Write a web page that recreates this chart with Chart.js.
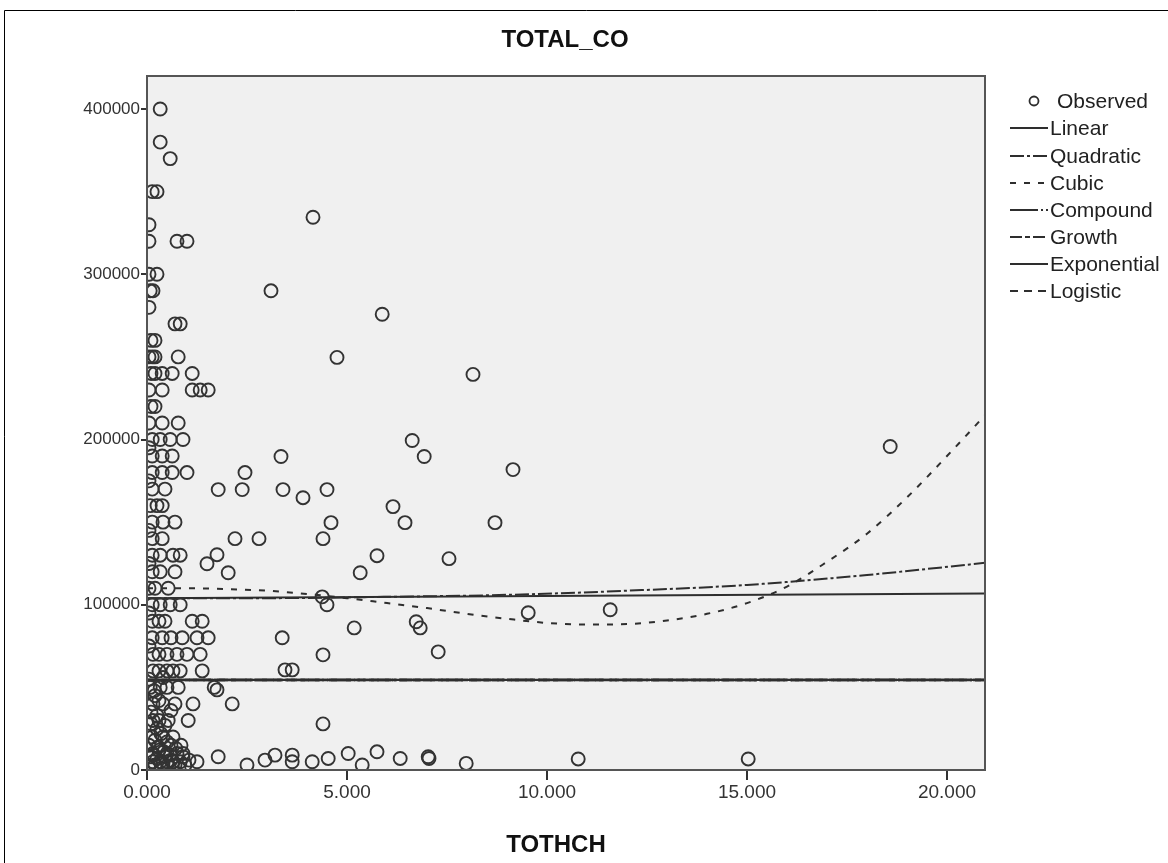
<!DOCTYPE html>
<html>
<head>
<meta charset="utf-8">
<script src="https://cdn.jsdelivr.net/npm/chart.js@4"></script>
<style>
html,body{margin:0;padding:0;background:#fff;}
#wrap{position:relative;width:1168px;height:863px;}
</style>
</head>
<body>
<div id="wrap"><canvas id="c" width="1168" height="863"></canvas></div>
<script>
// ---- Data ----
const chartTitle = "TOTAL_CO";
const xTitle = "TOTHCH";
const xTicks = [0, 5, 10, 15, 20];
const yTicks = [0, 100000, 200000, 300000, 400000];

// Observed points (TOTHCH, TOTAL_CO)
const obsX = [
 0.33,0.33,0.58,0.13,0.25,0.05,0.05,0.75,1.0,0.05,0.25,0.15,0.08,0.05,0.7,0.83,0.2,0.1,
 0.13,0.2,0.78,0.2,0.38,0.63,1.13,0.05,0.38,1.13,1.33,1.53,0.2,0.1,0.05,0.38,0.78,
 0.13,0.33,0.58,0.9,0.13,0.38,0.63,0.13,0.38,0.63,1.0,0.13,0.45,0.25,0.38,0.08,
 0.13,0.4,0.7,0.13,0.38,0.13,0.33,0.65,0.83,0.13,0.33,0.7,0.05,0.53,0.2,
 0.13,0.33,0.58,0.83,0.13,0.45,1.13,1.38,0.3,0.13,0.38,0.88,1.25,1.53,0.6,
 0.15,0.5,0.75,1.0,1.33,0.3,0.15,0.5,0.83,1.38,0.3,0.65,0.08,0.33,0.78,0.5,0.2,
 0.15,0.7,1.15,0.4,0.15,0.53,1.03,0.3,0.13,0.4,0.25,0.6,0.15,0.5,0.75,0.9,0.3,
 0.15,0.33,0.5,0.65,0.83,1.25,
 0.05,0.1,0.2,0.25,0.35,0.4,0.45,0.55,0.6,0.7,0.8,0.95,1.05,0.05,0.1,0.05,0.05,0.05,
 0.05,0.05,0.05,0.05,0.1,0.05,
 0.15,0.28,0.42,0.58,0.72,0.9,0.2,0.35,0.5,0.65,0.1,0.25,0.45,0.85,0.6,0.3,0.18,0.4,
 4.15,3.1,5.88,4.75,8.15,6.63,6.93,3.35,9.15,2.45,2.38,3.4,4.5,1.78,3.9,6.15,4.6,6.45,
 8.7,4.4,2.2,2.8,5.75,7.55,1.75,1.5,2.03,5.33,4.38,4.5,9.53,11.58,5.18,6.73,6.83,3.38,
 7.28,4.4,3.45,3.63,1.75,1.68,2.13,4.4,18.58,10.78,15.03,
 2.5,2.95,3.2,3.63,3.63,4.13,4.53,5.03,5.38,5.75,6.33,7.03,7.05,7.98,1.78
];
const obsY = [
 400000,380000,370000,350000,350000,330000,320000,320000,320000,300000,300000,290000,290000,280000,270000,270000,260000,260000,
 250000,250000,250000,240000,240000,240000,240000,230000,230000,230000,230000,230000,220000,220000,210000,210000,210000,
 200000,200000,200000,200000,190000,190000,190000,180000,180000,180000,180000,170000,170000,160000,160000,160000,
 150000,150000,150000,140000,140000,130000,130000,130000,130000,120000,120000,120000,110000,110000,110000,
 100000,100000,100000,100000,90000,90000,90000,90000,90000,80000,80000,80000,80000,80000,80000,
 70000,70000,70000,70000,70000,70000,60000,60000,60000,60000,60000,60000,50000,50000,50000,50000,45000,
 40000,40000,40000,40000,30000,30000,30000,30000,20000,20000,25000,15000,10000,10000,10000,10000,12000,
 5000,5000,5000,5000,5000,5000,
 2000,8000,3000,7000,1000,4000,8000,2000,6000,3000,1000,3000,6000,15000,35000,55000,75000,95000,
 125000,145000,175000,195000,240000,250000,
 9000,14000,11000,9000,13000,8000,18000,22000,17000,20000,28000,33000,27000,15000,36000,42000,48000,56000,
 334500,290000,275800,249700,239400,199400,189700,189700,181800,180000,169700,169700,169700,169700,164800,159400,149700,149700,
 149700,140000,140000,140000,129700,127900,130300,124800,119400,119400,104800,100000,95200,97000,86000,89700,86000,80000,
 71500,69700,60600,60600,48500,50000,40000,27900,195800,6700,6700,
 3000,6000,9000,9000,5000,5000,7000,10000,3000,11000,7000,8000,7000,4000,8000
];

// Fitted curves
const linearX = [0, 21];
const linearY = [104000, 106800];
const quadX = [0, 3, 6, 9, 12, 15, 18, 21];
const quadY = [104000, 104000, 104800, 106000, 108500, 112000, 118000, 125500];
const cubicX = [0,1,2,3,4,5,6,7,8,9,10,11,12,13,14,15,16,17,18,19,20,21];
const cubicY = [110000,110000,109500,108500,106500,104000,101000,98000,94500,91500,89000,88000,88300,90500,94500,101000,111000,126000,143000,165000,190000,216000];
const flatX = [0, 21];
const compoundY = [54500, 54500];
const growthY = [54500, 54500];
const exponentialY = [54500, 54500];
const logisticY = [54500, 54500];

const legendNames = ["Observed","Linear","Quadratic","Cubic","Compound","Growth","Exponential","Logistic"];

// ---- build ----
const FONT = '"Liberation Sans", Arial, sans-serif';
const zip = (xs, ys) => xs.map((x, i) => ({x: x, y: ys[i]}));
const INK = '#2e2e2e';
const lineStyles = {
  Linear: [],
  Quadratic: [14,3,3,3],
  Cubic: [6,8],
  Compound: [28,3,2,3],
  Growth: [12,3,5,3],
  Exponential: [],
  Logistic: [8,6]
};
const lineWidths = { Linear: 2, Quadratic: 2, Cubic: 2, Compound: 2.6, Growth: 2.6, Exponential: 2.2, Logistic: 2.6 };
function lineDs(label, xs, ys) {
  return {
    label: label, data: zip(xs, ys), showLine: true, pointRadius: 0,
    borderColor: INK, borderWidth: lineWidths[label], borderDash: lineStyles[label],
    cubicInterpolationMode: 'monotone', fill: false
  };
}

const framePlugin = {
  id: 'frame',
  beforeDraw(chart) {
    const ctx = chart.ctx, a = chart.chartArea;
    ctx.save();
    ctx.fillStyle = '#ffffff';
    ctx.fillRect(0, 0, chart.width, chart.height);
    ctx.strokeStyle = '#000';
    ctx.lineWidth = 1;
    ctx.beginPath();
    ctx.moveTo(4.5, chart.height);
    ctx.lineTo(4.5, 10.5);
    ctx.lineTo(chart.width, 10.5);
    ctx.stroke();
    ctx.fillStyle = '#f0f0f0';
    ctx.fillRect(a.left, a.top, a.right - a.left, a.bottom - a.top);
    ctx.restore();
  },
  afterDatasetsDraw(chart) {
    const ctx = chart.ctx, a = chart.chartArea;
    ctx.save();
    ctx.strokeStyle = '#555';
    ctx.lineWidth = 2;
    ctx.strokeRect(a.left, a.top, a.right - a.left, a.bottom - a.top);
    // titles
    ctx.fillStyle = '#111';
    ctx.font = 'bold 24px ' + FONT;
    ctx.textAlign = 'center';
    ctx.textBaseline = 'middle';
    ctx.fillText(chartTitle, 565, 40);
    ctx.fillText(xTitle, 556, 845);
    // legend
    const lx0 = 1010, lx1 = 1048, tx = 1050;
    const rows = [101, 128, 156, 183, 210, 237, 264, 291];
    ctx.font = '21px ' + FONT;
    ctx.textAlign = 'left';
    ctx.textBaseline = 'middle';
    legendNames.forEach((name, i) => {
      const y = rows[i];
      ctx.strokeStyle = INK;
      let x = tx;
      if (name === 'Observed') {
        ctx.lineWidth = 1.8;
        ctx.setLineDash([]);
        ctx.beginPath();
        ctx.arc(1034, y, 4.5, 0, Math.PI * 2);
        ctx.stroke();
        x = 1057;
      } else {
        ctx.lineWidth = 2;
        ctx.setLineDash(lineStyles[name]);
        ctx.beginPath();
        ctx.moveTo(lx0, y);
        ctx.lineTo(lx1, y);
        ctx.stroke();
        ctx.setLineDash([]);
      }
      ctx.fillStyle = '#222';
      ctx.fillText(name, x, y + 1);
    });
    ctx.restore();
  }
};

new Chart(document.getElementById('c'), {
  type: 'scatter',
  data: {
    datasets: [
      { label: 'Observed', data: zip(obsX, obsY), showLine: false,
        pointStyle: 'circle', pointRadius: 6.5, pointBorderWidth: 1.9,
        pointBorderColor: '#333', pointBackgroundColor: 'rgba(0,0,0,0)' },
      lineDs('Linear', linearX, linearY),
      lineDs('Quadratic', quadX, quadY),
      lineDs('Cubic', cubicX, cubicY),
      lineDs('Compound', flatX, compoundY),
      lineDs('Growth', flatX, growthY),
      lineDs('Exponential', flatX, exponentialY),
      lineDs('Logistic', flatX, logisticY)
    ]
  },
  options: {
    responsive: false,
    animation: false,
    devicePixelRatio: 1,
    layout: { padding: { left: 0, top: 76, right: 183, bottom: 0 } },
    plugins: { legend: { display: false }, tooltip: { enabled: false }, title: { display: false } },
    scales: {
      x: {
        type: 'linear', min: 0, max: 20.95,
        afterFit(s) { s.height = 93; },
        afterBuildTicks(s) { s.ticks = xTicks.map(v => ({value: v})); },
        ticks: { callback: v => Number(v).toFixed(3), font: { size: 19, family: FONT },
                 color: '#333', padding: 1, maxRotation: 0, includeBounds: false },
        grid: { drawOnChartArea: false, drawTicks: true, tickLength: 10, color: '#333', lineWidth: 2 },
        border: { display: false },
        title: { display: false }
      },
      y: {
        type: 'linear', min: 0, max: 420000,
        afterFit(s) { s.width = 147; },
        afterBuildTicks(s) { s.ticks = yTicks.map(v => ({value: v})); },
        ticks: { callback: v => String(v), font: { size: 17, family: FONT },
                 color: '#333', padding: 1, includeBounds: false },
        grid: { drawOnChartArea: false, drawTicks: true, tickLength: 6, color: '#333', lineWidth: 2 },
        border: { display: false }
      }
    }
  },
  plugins: [framePlugin]
});
</script>
</body>
</html>
